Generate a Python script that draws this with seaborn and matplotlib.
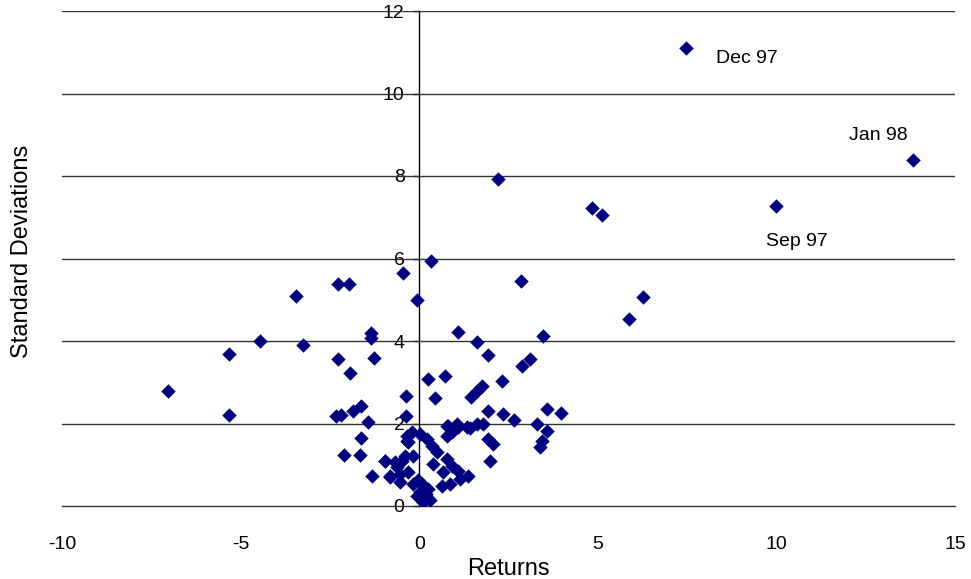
import pandas as pd
import seaborn as sns
import matplotlib
matplotlib.use('Agg')
import matplotlib.pyplot as plt

# returns vs standard deviations
returns = [
    7.47, 13.83, 9.99, 2.21, 4.84, 5.12, 6.27, 5.88,
    -7.02, -5.32, -4.45, -3.44, -3.26, -2.26, -1.96, -2.26, -1.93,
    -1.35, -1.35, -1.26, -0.46, -0.05, -0.38, -5.32,
    0.33, 2.86,
    1.10, 1.62, 1.94, 3.46, 2.88, 3.11, 0.26, 0.73, 0.45, 2.32,
    1.76, 1.62, 1.45, 3.57, 3.98, 1.94, 2.36, 2.64, -0.36,
    3.30, 3.57, 3.43, 3.37, 1.80, 1.94, 2.08, 0.78, 0.82, 1.10, 1.43, 1.99,
    -2.32, -2.20, -1.84, -1.63, -1.42, -1.63, -2.10, -1.65,
    -0.97, -1.32, -0.81, -0.53, -0.62, -0.48, -0.30, -0.34,
    0.03, -0.20, -0.34, 0.22, 0.36, 0.50, -0.95, -0.67, -0.39, -0.16,
    -0.81, -0.53, -0.30, -0.16, 0.08, -0.06, 0.12, 0.26, 0.40,
    0.78, 0.92, 0.68, 0.64, 0.87, 1.15, 1.38, 1.10,
    0.78, 1.06, 1.34, 1.62, 0.92, 0.02, 0.10, -0.02, 0.18, 0.30,
]
std_devs = [
    11.10, 8.39, 7.27, 7.93, 7.22, 7.05, 5.07, 4.53,
    2.80, 3.68, 4.01, 5.10, 3.90, 5.38, 5.38, 3.56, 3.22,
    4.19, 4.07, 3.59, 5.64, 4.99, 2.66, 2.21,
    5.95, 5.46,
    4.23, 3.97, 3.66, 4.11, 3.40, 3.56, 3.08, 3.14, 2.63, 3.04,
    2.90, 2.80, 2.64, 2.35, 2.25, 2.31, 2.23, 2.09, 2.17,
    1.99, 1.83, 1.58, 1.42, 1.99, 1.62, 1.50, 1.70, 1.95, 1.91, 1.89, 1.09,
    2.19, 2.21, 2.31, 2.43, 2.03, 1.64, 1.24, 1.24,
    1.10, 0.72, 0.72, 0.57, 0.94, 1.10, 1.54, 1.70,
    1.75, 1.79, 1.58, 1.62, 1.46, 1.30, 1.10, 1.06, 1.22, 1.22,
    0.70, 0.78, 0.82, 0.53, 0.53, 0.25, 0.17, 0.41, 1.02,
    1.14, 0.98, 0.82, 0.49, 0.53, 0.65, 0.73, 0.86,
    1.95, 1.99, 1.91, 1.99, 1.79, 0.35, 0.10, 0.62, 0.28, 0.15,
]

labels = ['Dec 97', 'Jan 98', 'Sep 97']
label_x = [8.31, 12.04, 9.71]
label_y = [10.84, 8.99, 6.42]

df = pd.DataFrame({'Returns': returns, 'Standard Deviations': std_devs})

sns.set_style('white')
plt.rcParams['font.family'] = ['Liberation Sans', 'DejaVu Sans']
plt.rcParams['axes.unicode_minus'] = False
plt.rcParams['text.color'] = 'black'
plt.rcParams['axes.labelcolor'] = 'black'
plt.rcParams['xtick.color'] = 'black'
plt.rcParams['ytick.color'] = 'black'

fig = plt.figure(figsize=(9.71, 5.79), dpi=100)
ax = fig.add_axes([62 / 971, 73 / 579, 893 / 971, 495 / 579])

sns.scatterplot(data=df, x='Returns', y='Standard Deviations', ax=ax,
                marker='D', color='#000080', s=54, linewidth=0, zorder=3)

for t, lx, ly in zip(labels, label_x, label_y):
    ax.text(lx, ly, t, fontsize=14, va='center', ha='left', color='black')

ax.set_xlim(-10, 15)
ax.set_ylim(0, 12)
ax.set_xticks([-10, -5, 0, 5, 10, 15])
ax.set_yticks([0, 2, 4, 6, 8, 10, 12])

# gridlines across the whole plot
for yv in range(2, 13, 2):
    ax.axhline(yv, color='#333333', lw=1, zorder=1)

ax.spines['left'].set_position(('data', 0))
ax.spines['left'].set_color('black')
ax.spines['left'].set_linewidth(1)
ax.spines['bottom'].set_color('#333333')
ax.spines['bottom'].set_linewidth(1)
ax.spines['top'].set_visible(False)
ax.spines['right'].set_visible(False)

ax.tick_params(axis='y', left=True, length=4.5, width=1, pad=6, labelsize=14)
ax.tick_params(axis='x', bottom=False, pad=18, labelsize=14)

ax.set_xlabel('Returns', fontsize=17, labelpad=4)
ax.set_ylabel('')
fig.text(22 / 971, 1 - 251 / 579, 'Standard Deviations', fontsize=17,
         rotation=90, ha='center', va='center')

plt.savefig('out.png', dpi=100)
